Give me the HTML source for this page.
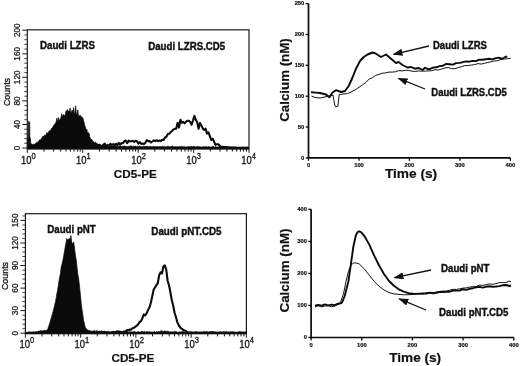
<!DOCTYPE html>
<html><head><meta charset="utf-8"><title>Figure</title>
<style>
html,body{margin:0;padding:0;background:#fff;}
body{width:520px;height:366px;overflow:hidden;font-family:"Liberation Sans",sans-serif;}
svg{display:block;}
text{font-family:"Liberation Sans",sans-serif;fill:#111;}
.b{font-weight:bold;stroke:#111;stroke-width:0.2px;}
</style></head><body>
<svg width="520" height="366" viewBox="0 0 520 366">
<rect width="520" height="366" fill="#fff"/>
<defs><marker id="ah" markerWidth="10" markerHeight="8" refX="9" refY="3.6" orient="auto" markerUnits="userSpaceOnUse"><path d="M0,0 L10,3.6 L0,7.2 Z" fill="#111"/></marker></defs>

<g>
<polygon points="27.3,148.0 27.3,138.5 28.5,138.0 28.6,121.5 29.7,122.0 29.8,137.0 30.5,138.5 30.7,144.5 30.9,143.7 31.6,144.0 32.3,144.6 33.0,144.6 33.7,144.1 34.4,144.3 35.1,144.1 35.8,143.2 36.5,142.6 37.2,142.2 37.9,142.2 38.6,141.1 39.3,140.1 40.0,139.7 40.7,139.6 41.4,139.2 42.1,137.4 42.8,136.2 43.5,136.3 44.2,136.5 44.9,134.8 45.6,135.7 46.3,134.1 47.0,132.4 47.7,133.4 48.4,132.6 49.1,131.0 49.8,131.0 50.5,129.9 51.2,129.3 51.9,127.9 52.6,127.5 53.3,125.9 54.0,125.2 54.7,124.1 55.4,123.4 56.1,122.0 56.8,118.3 57.5,122.4 58.2,117.5 58.9,119.8 59.6,120.4 60.3,118.4 61.0,117.5 61.7,113.7 62.4,117.2 63.1,115.0 63.8,114.5 64.5,116.1 65.2,115.2 65.9,111.4 66.6,110.5 67.3,109.6 68.0,111.1 68.7,111.2 69.4,111.9 70.1,107.9 70.8,113.0 71.5,111.7 72.2,110.1 72.9,112.8 73.6,107.6 74.3,113.4 75.0,112.7 75.7,105.8 76.4,114.4 77.1,114.6 77.8,109.8 78.5,116.2 79.2,116.2 79.9,115.1 80.6,115.8 81.3,116.5 82.0,118.1 82.7,117.4 83.4,120.0 84.1,122.5 84.8,125.7 85.5,127.2 86.2,130.1 86.9,129.4 87.6,133.2 88.3,132.7 89.0,133.0 89.7,136.7 90.4,138.4 91.1,139.4 91.8,139.3 92.5,140.6 93.2,141.3 93.9,142.2 94.6,142.4 95.3,142.2 96.0,143.0 96.7,143.4 97.4,143.9 98.1,143.9 98.8,144.6 99.5,144.2 100.2,144.6 100.9,144.6 101.6,145.3 102.3,145.7 103.0,145.1 103.7,145.6 104.4,144.6 105.1,145.4 105.8,145.6 106.5,145.7 107.2,145.6 107.9,145.5 108.6,146.2 109.3,146.4 110.0,146.1 110.7,146.0 111.4,146.1 112.1,145.7 112.8,146.1 113.5,145.9 114.2,146.1 114.9,145.8 115.6,145.7 116.3,146.2 117.0,146.0 117.7,146.4 118.4,146.4 119.1,146.0 119.8,145.8 120.5,145.8 121.2,146.4 121.9,146.5 122.6,146.1 123.3,146.2 124.0,146.2 124.7,146.1 125.4,146.2 126.1,146.5 126.8,146.5 127.5,146.6 128.2,146.2 128.9,146.5 129.6,146.3 130.3,145.7 131.0,146.3 131.7,146.1 132.4,146.7 133.1,146.2 133.8,146.0 134.5,146.5 135.2,146.0 135.9,146.4 136.6,146.5 137.3,146.2 138.0,146.4 138.7,146.5 139.4,145.7 140.1,146.6 140.8,146.6 141.5,146.6 142.2,146.6 142.9,146.6 143.6,146.2 144.3,146.5 145.0,146.2 145.7,146.6 146.4,146.4 147.1,146.1 147.8,146.5 148.5,146.7 149.2,146.4 149.9,146.4 150.6,146.4 151.3,146.7 152.0,146.5 152.7,146.7 153.4,146.3 154.1,146.7 154.8,146.6 155.5,146.7 156.2,146.7 156.9,146.4 157.6,146.5 158.3,146.8 159.0,146.6 159.7,146.6 160.4,146.5 161.1,146.8 161.8,146.7 162.5,146.2 163.2,146.7 163.9,146.5 164.6,146.4 165.3,146.9 166.0,146.5 166.7,146.8 167.4,146.4 168.1,146.1 168.8,146.7 169.5,146.8 170.2,146.8 170.9,146.2 171.6,146.5 172.3,146.1 173.0,146.6 173.7,146.7 174.4,146.6 175.1,146.9 175.8,146.6 176.5,146.8 177.2,146.8 177.9,146.7 178.6,146.7 179.3,146.6 180.0,146.8 180.7,146.5 181.4,146.2 182.1,146.8 182.8,146.7 183.5,146.7 184.2,146.8 184.9,146.8 185.6,147.0 186.3,147.0 187.0,146.8 187.7,146.7 188.4,146.4 189.1,146.9 189.8,146.5 190.5,146.6 191.2,146.7 191.9,146.2 192.6,147.0 193.3,146.1 194.0,146.9 194.7,146.4 195.4,147.1 196.1,146.6 196.8,146.9 197.5,146.3 198.2,146.8 198.9,146.8 199.6,146.6 200.3,146.8 201.0,146.9 201.7,147.1 202.4,146.9 203.1,146.6 203.8,146.7 204.5,146.9 205.2,147.1 205.9,146.2 206.6,147.1 207.3,147.0 208.0,146.9 208.7,146.2 209.4,147.0 210.1,147.1 210.8,147.2 211.5,146.9 212.2,146.3 212.9,146.7 213.6,146.5 214.3,147.0 215.0,147.0 215.7,146.5 216.4,147.1 217.1,146.8 217.8,147.1 218.5,147.0 219.2,147.1 219.9,147.0 220.6,147.1 221.3,147.2 222.0,146.9 222.7,147.1 223.4,147.2 224.1,146.9 224.8,147.2 225.5,147.3 226.2,147.2 226.9,147.1 227.6,146.6 228.3,147.2 229.0,146.6 229.7,147.1 230.4,147.3 231.1,147.3 231.8,147.3 232.5,147.4 233.2,147.0 233.9,147.2 234.6,147.3 235.3,147.3 236.0,147.4 236.7,147.4 237.4,147.3 238.1,147.3 238.8,147.4 239.5,147.5 240.2,147.4 240.9,147.3 241.6,147.5 242.3,147.0 243.0,147.5 243.7,147.3 244.4,147.4 245.1,147.3 245.8,147.3 246.5,147.3 247.2,147.3 247.9,147.0 248.6,147.5 249.0,148.0" fill="#0a0a0a" stroke="#0a0a0a" stroke-width="0.7" stroke-linejoin="round"/>
<polyline points="88.0,146.5 89.4,146.1 90.8,145.8 92.2,145.4 93.6,145.0 95.0,144.6 96.4,144.6 97.8,145.1 99.2,145.1 100.6,147.4 102.0,146.7 103.4,144.7 104.8,143.7 106.2,146.8 107.6,144.8 109.0,145.8 110.4,143.9 111.8,144.9 113.2,144.1 114.6,145.0 116.0,143.8 117.4,145.3 118.8,142.9 120.2,144.5 121.6,143.0 123.0,143.3 124.4,141.0 125.8,140.6 127.2,143.2 128.6,140.7 130.0,141.4 131.4,141.3 132.8,140.7 134.2,142.1 135.6,140.8 137.0,141.3 138.4,143.6 139.8,142.2 141.2,143.9 142.6,143.5 144.0,144.1 145.4,142.8 146.8,140.2 148.2,141.1 149.6,141.0 151.0,142.5 152.4,141.5 153.8,140.4 155.2,141.2 156.6,140.2 158.0,141.1 159.4,140.5 160.8,141.1 162.2,139.7 163.6,139.9 165.0,137.5 166.4,136.8 167.8,134.0 169.2,133.7 170.6,132.2 172.0,130.9 173.4,129.5 174.8,128.9 176.2,128.8 177.6,122.8 179.0,127.6 180.4,119.7 181.8,122.8 183.2,121.9 184.6,123.4 186.0,121.8 187.4,120.7 188.8,120.7 190.2,122.1 191.6,124.7 193.0,120.5 194.4,115.9 195.8,119.9 197.2,122.2 198.6,128.8 200.0,122.9 201.4,125.4 202.8,128.7 204.2,129.8 205.6,128.7 207.0,133.6 208.4,132.3 209.8,135.9 211.2,139.9 212.6,138.7 214.0,141.3 215.4,144.8 216.8,144.3 218.2,144.3 219.6,145.4 221.0,147.3 222.4,146.7 223.8,146.9 225.2,147.0 226.6,147.2 228.0,147.4 229.4,147.5 230.8,147.6 232.2,147.6 233.6,147.6 235.0,147.6 236.4,147.7 237.8,147.7 239.2,147.7 240.6,147.7 242.0,147.7 243.4,147.7 244.8,147.7 246.2,147.7 247.6,147.7 249.0,147.7" fill="none" stroke="#0d0d0d" stroke-width="2.1" stroke-linejoin="round"/>
<rect x="27.3" y="29.8" width="221.7" height="118.9" fill="none" stroke="#1a1a1a" stroke-width="1.2"/>
<line x1="27.3" y1="148.7" x2="249.0" y2="148.7" stroke="#111" stroke-width="1.5"/>
<line x1="22.3" y1="148.0" x2="27.3" y2="148.0" stroke="#1a1a1a" stroke-width="1"/>
<text transform="translate(19.7,148.0) rotate(-90)" text-anchor="middle" font-size="8.2" stroke="#111" stroke-width="0.25">0</text>
<line x1="24.3" y1="143.3" x2="27.3" y2="143.3" stroke="#1a1a1a" stroke-width="0.8"/>
<line x1="24.3" y1="138.6" x2="27.3" y2="138.6" stroke="#1a1a1a" stroke-width="0.8"/>
<line x1="24.3" y1="133.9" x2="27.3" y2="133.9" stroke="#1a1a1a" stroke-width="0.8"/>
<line x1="24.3" y1="129.2" x2="27.3" y2="129.2" stroke="#1a1a1a" stroke-width="0.8"/>
<line x1="22.3" y1="124.5" x2="27.3" y2="124.5" stroke="#1a1a1a" stroke-width="1"/>
<text transform="translate(19.7,124.5) rotate(-90)" text-anchor="middle" font-size="8.2" stroke="#111" stroke-width="0.25">40</text>
<line x1="24.3" y1="119.7" x2="27.3" y2="119.7" stroke="#1a1a1a" stroke-width="0.8"/>
<line x1="24.3" y1="115.0" x2="27.3" y2="115.0" stroke="#1a1a1a" stroke-width="0.8"/>
<line x1="24.3" y1="110.3" x2="27.3" y2="110.3" stroke="#1a1a1a" stroke-width="0.8"/>
<line x1="24.3" y1="105.6" x2="27.3" y2="105.6" stroke="#1a1a1a" stroke-width="0.8"/>
<line x1="22.3" y1="100.9" x2="27.3" y2="100.9" stroke="#1a1a1a" stroke-width="1"/>
<text transform="translate(19.7,100.9) rotate(-90)" text-anchor="middle" font-size="8.2" stroke="#111" stroke-width="0.25">80</text>
<line x1="24.3" y1="96.2" x2="27.3" y2="96.2" stroke="#1a1a1a" stroke-width="0.8"/>
<line x1="24.3" y1="91.5" x2="27.3" y2="91.5" stroke="#1a1a1a" stroke-width="0.8"/>
<line x1="24.3" y1="86.8" x2="27.3" y2="86.8" stroke="#1a1a1a" stroke-width="0.8"/>
<line x1="24.3" y1="82.1" x2="27.3" y2="82.1" stroke="#1a1a1a" stroke-width="0.8"/>
<line x1="22.3" y1="77.3" x2="27.3" y2="77.3" stroke="#1a1a1a" stroke-width="1"/>
<text transform="translate(19.7,77.3) rotate(-90)" text-anchor="middle" font-size="8.2" stroke="#111" stroke-width="0.25">120</text>
<line x1="24.3" y1="72.6" x2="27.3" y2="72.6" stroke="#1a1a1a" stroke-width="0.8"/>
<line x1="24.3" y1="67.9" x2="27.3" y2="67.9" stroke="#1a1a1a" stroke-width="0.8"/>
<line x1="24.3" y1="63.2" x2="27.3" y2="63.2" stroke="#1a1a1a" stroke-width="0.8"/>
<line x1="24.3" y1="58.5" x2="27.3" y2="58.5" stroke="#1a1a1a" stroke-width="0.8"/>
<line x1="22.3" y1="53.8" x2="27.3" y2="53.8" stroke="#1a1a1a" stroke-width="1"/>
<text transform="translate(19.7,53.8) rotate(-90)" text-anchor="middle" font-size="8.2" stroke="#111" stroke-width="0.25">160</text>
<line x1="24.3" y1="49.1" x2="27.3" y2="49.1" stroke="#1a1a1a" stroke-width="0.8"/>
<line x1="24.3" y1="44.4" x2="27.3" y2="44.4" stroke="#1a1a1a" stroke-width="0.8"/>
<line x1="24.3" y1="39.7" x2="27.3" y2="39.7" stroke="#1a1a1a" stroke-width="0.8"/>
<line x1="24.3" y1="35.0" x2="27.3" y2="35.0" stroke="#1a1a1a" stroke-width="0.8"/>
<line x1="22.3" y1="30.2" x2="27.3" y2="30.2" stroke="#1a1a1a" stroke-width="1"/>
<text transform="translate(19.7,30.2) rotate(-90)" text-anchor="middle" font-size="8.2" stroke="#111" stroke-width="0.25">200</text>
<line x1="27.3" y1="148.7" x2="27.3" y2="152.89999999999998" stroke="#1a1a1a" stroke-width="1"/>
<text transform="translate(28.3,163.8) scale(0.9,1)" text-anchor="middle" font-size="10.5" stroke="#111" stroke-width="0.3">10<tspan dy="-5.2" font-size="8.4">0</tspan></text>
<line x1="44.0" y1="148.7" x2="44.0" y2="151.6" stroke="#111" stroke-width="1"/>
<line x1="53.7" y1="148.7" x2="53.7" y2="151.6" stroke="#111" stroke-width="1"/>
<line x1="60.7" y1="148.7" x2="60.7" y2="151.6" stroke="#111" stroke-width="1"/>
<line x1="66.0" y1="148.7" x2="66.0" y2="151.6" stroke="#111" stroke-width="1"/>
<line x1="70.4" y1="148.7" x2="70.4" y2="151.6" stroke="#111" stroke-width="1"/>
<line x1="74.1" y1="148.7" x2="74.1" y2="151.6" stroke="#111" stroke-width="1"/>
<line x1="77.4" y1="148.7" x2="77.4" y2="151.6" stroke="#111" stroke-width="1"/>
<line x1="80.2" y1="148.7" x2="80.2" y2="151.6" stroke="#111" stroke-width="1"/>
<line x1="82.7" y1="148.7" x2="82.7" y2="152.89999999999998" stroke="#1a1a1a" stroke-width="1"/>
<text transform="translate(83.4,163.8) scale(0.9,1)" text-anchor="middle" font-size="10.5" stroke="#111" stroke-width="0.3">10<tspan dy="-5.2" font-size="8.4">1</tspan></text>
<line x1="99.4" y1="148.7" x2="99.4" y2="151.6" stroke="#111" stroke-width="1"/>
<line x1="109.2" y1="148.7" x2="109.2" y2="151.6" stroke="#111" stroke-width="1"/>
<line x1="116.1" y1="148.7" x2="116.1" y2="151.6" stroke="#111" stroke-width="1"/>
<line x1="121.5" y1="148.7" x2="121.5" y2="151.6" stroke="#111" stroke-width="1"/>
<line x1="125.9" y1="148.7" x2="125.9" y2="151.6" stroke="#111" stroke-width="1"/>
<line x1="129.6" y1="148.7" x2="129.6" y2="151.6" stroke="#111" stroke-width="1"/>
<line x1="132.8" y1="148.7" x2="132.8" y2="151.6" stroke="#111" stroke-width="1"/>
<line x1="135.6" y1="148.7" x2="135.6" y2="151.6" stroke="#111" stroke-width="1"/>
<line x1="138.2" y1="148.7" x2="138.2" y2="152.89999999999998" stroke="#1a1a1a" stroke-width="1"/>
<text transform="translate(138.5,163.8) scale(0.9,1)" text-anchor="middle" font-size="10.5" stroke="#111" stroke-width="0.3">10<tspan dy="-5.2" font-size="8.4">2</tspan></text>
<line x1="154.8" y1="148.7" x2="154.8" y2="151.6" stroke="#111" stroke-width="1"/>
<line x1="164.6" y1="148.7" x2="164.6" y2="151.6" stroke="#111" stroke-width="1"/>
<line x1="171.5" y1="148.7" x2="171.5" y2="151.6" stroke="#111" stroke-width="1"/>
<line x1="176.9" y1="148.7" x2="176.9" y2="151.6" stroke="#111" stroke-width="1"/>
<line x1="181.3" y1="148.7" x2="181.3" y2="151.6" stroke="#111" stroke-width="1"/>
<line x1="185.0" y1="148.7" x2="185.0" y2="151.6" stroke="#111" stroke-width="1"/>
<line x1="188.2" y1="148.7" x2="188.2" y2="151.6" stroke="#111" stroke-width="1"/>
<line x1="191.0" y1="148.7" x2="191.0" y2="151.6" stroke="#111" stroke-width="1"/>
<line x1="193.6" y1="148.7" x2="193.6" y2="152.89999999999998" stroke="#1a1a1a" stroke-width="1"/>
<text transform="translate(193.5,163.8) scale(0.9,1)" text-anchor="middle" font-size="10.5" stroke="#111" stroke-width="0.3">10<tspan dy="-5.2" font-size="8.4">3</tspan></text>
<line x1="210.3" y1="148.7" x2="210.3" y2="151.6" stroke="#111" stroke-width="1"/>
<line x1="220.0" y1="148.7" x2="220.0" y2="151.6" stroke="#111" stroke-width="1"/>
<line x1="226.9" y1="148.7" x2="226.9" y2="151.6" stroke="#111" stroke-width="1"/>
<line x1="232.3" y1="148.7" x2="232.3" y2="151.6" stroke="#111" stroke-width="1"/>
<line x1="236.7" y1="148.7" x2="236.7" y2="151.6" stroke="#111" stroke-width="1"/>
<line x1="240.4" y1="148.7" x2="240.4" y2="151.6" stroke="#111" stroke-width="1"/>
<line x1="243.6" y1="148.7" x2="243.6" y2="151.6" stroke="#111" stroke-width="1"/>
<line x1="246.5" y1="148.7" x2="246.5" y2="151.6" stroke="#111" stroke-width="1"/>
<line x1="249.0" y1="148.7" x2="249.0" y2="152.89999999999998" stroke="#1a1a1a" stroke-width="1"/>
<text transform="translate(248.6,163.8) scale(0.9,1)" text-anchor="middle" font-size="10.5" stroke="#111" stroke-width="0.3">10<tspan dy="-5.2" font-size="8.4">4</tspan></text>
<text transform="translate(10.3,92) rotate(-90)" text-anchor="middle" font-size="8.9" stroke="#111" stroke-width="0.3">Counts</text>
<text class="b" x="135.3" y="177.8" text-anchor="middle" font-size="11.7">CD5-PE</text>
<text class="b" transform="translate(40,49) scale(0.91,1)" font-size="10.67" style="stroke-width:0.4px">Daudi LZRS</text>
<text class="b" transform="translate(148.2,50.2) scale(0.91,1)" font-size="10.67" style="stroke-width:0.4px">Daudi LZRS.CD5</text>
</g>
<g>
<polygon points="25.4,333.2 25.4,332.0 26.1,332.2 26.8,332.3 27.5,332.4 28.2,332.0 28.9,331.7 29.6,331.9 30.3,331.9 31.0,332.2 31.7,332.0 32.4,332.1 33.1,331.5 33.8,331.8 34.5,332.0 35.2,331.9 35.9,331.6 36.6,331.6 37.3,331.7 38.0,331.3 38.7,331.0 39.4,331.0 40.1,331.1 40.8,330.6 41.5,330.8 42.2,330.9 42.9,330.8 43.6,330.5 44.3,330.2 45.0,330.6 45.7,330.5 46.4,330.3 47.1,329.9 47.8,328.9 48.5,326.9 49.2,324.7 49.9,322.7 50.6,320.1 51.3,317.8 52.0,315.0 52.7,313.2 53.4,310.2 54.1,307.6 54.8,304.2 55.5,301.9 56.2,297.8 56.9,293.4 57.6,290.2 58.3,285.8 59.0,280.8 59.7,276.9 60.4,273.7 61.1,267.6 61.8,264.8 62.5,262.1 63.2,258.7 63.9,254.8 64.6,250.6 65.3,246.4 66.0,243.2 66.7,238.5 67.4,240.1 68.1,239.5 68.8,238.8 69.5,238.4 70.2,240.1 70.9,235.5 71.6,241.6 72.3,243.3 73.0,244.1 73.7,241.8 74.4,246.9 75.1,252.8 75.8,257.5 76.5,262.0 77.2,269.3 77.9,274.6 78.6,278.2 79.3,284.3 80.0,290.9 80.7,297.8 81.4,304.9 82.1,310.1 82.8,314.5 83.5,320.0 84.2,322.6 84.9,326.0 85.6,328.3 86.3,328.8 87.0,329.2 87.7,330.3 88.4,330.3 89.1,330.4 89.8,330.5 90.5,330.9 91.2,331.2 91.9,331.1 92.6,331.1 93.3,331.1 94.0,330.8 94.7,330.5 95.4,331.2 96.1,331.4 96.8,330.3 97.5,330.9 98.2,331.6 98.9,331.4 99.6,331.2 100.3,331.6 101.0,330.8 101.7,330.8 102.4,331.5 103.1,331.6 103.8,331.7 104.5,331.2 105.2,331.5 105.9,331.4 106.6,331.8 107.3,331.5 108.0,331.4 108.7,331.9 109.4,331.9 110.1,332.1 110.8,332.0 111.5,331.7 112.2,331.9 112.9,331.3 113.6,331.3 114.3,331.9 115.0,332.0 115.7,331.9 116.4,331.9 117.1,330.8 117.8,332.0 118.5,331.9 119.2,331.9 119.9,331.7 120.6,330.9 121.3,331.5 122.0,331.9 122.7,331.6 123.4,331.3 124.1,332.1 124.8,331.9 125.5,331.9 126.2,332.1 126.9,330.7 127.6,331.9 128.3,332.2 129.0,331.9 129.7,331.6 130.4,331.9 131.1,331.5 131.8,332.1 132.5,332.1 133.2,331.8 133.9,331.6 134.6,331.3 135.3,331.9 136.0,332.0 136.7,332.2 137.4,331.8 138.1,332.0 138.8,331.5 139.5,332.1 140.2,332.1 140.9,332.1 141.6,331.3 142.3,331.6 143.0,331.7 143.7,331.7 144.4,331.5 145.1,331.8 145.8,332.2 146.5,331.9 147.2,331.2 147.9,332.0 148.6,332.1 149.3,331.4 150.0,332.1 150.7,332.0 151.4,332.1 152.1,332.1 152.8,332.1 153.5,332.2 154.2,331.3 154.9,331.9 155.6,332.2 156.3,331.6 157.0,332.2 157.7,331.7 158.4,331.5 159.1,332.0 159.8,331.6 160.5,331.6 161.2,330.3 161.9,331.5 162.6,331.3 163.3,331.7 164.0,330.9 164.7,331.1 165.4,330.9 166.1,331.6 166.8,331.3 167.5,331.2 168.2,331.5 168.9,331.6 169.6,331.9 170.3,332.0 171.0,331.8 171.7,331.8 172.4,331.7 173.1,332.3 173.8,331.7 174.5,331.2 175.2,331.5 175.9,331.8 176.6,331.7 177.3,332.2 178.0,332.1 178.7,332.2 179.4,331.7 180.1,332.2 180.8,332.0 181.5,331.8 182.2,332.2 182.9,331.0 183.6,331.9 184.3,331.9 185.0,332.0 185.7,332.0 186.4,332.3 187.1,332.3 187.8,331.8 188.5,332.2 189.2,331.9 189.9,332.4 190.6,331.8 191.3,332.2 192.0,332.1 192.7,332.2 193.4,332.4 194.1,332.1 194.8,332.3 195.5,331.9 196.2,331.9 196.9,331.9 197.6,331.8 198.3,332.4 199.0,332.2 199.7,332.0 200.4,332.1 201.1,332.2 201.8,332.0 202.5,332.3 203.2,332.1 203.9,332.3 204.6,332.0 205.3,332.1 206.0,332.4 206.7,331.2 207.4,332.1 208.1,332.2 208.8,331.9 209.5,331.8 210.2,332.0 210.9,332.2 211.6,332.2 212.3,332.1 213.0,331.1 213.7,332.1 214.4,332.2 215.1,332.5 215.8,331.9 216.5,332.5 217.2,332.5 217.9,332.5 218.6,331.9 219.3,331.9 220.0,332.3 220.7,331.4 221.4,332.6 222.1,332.3 222.8,332.4 223.5,331.6 224.2,332.1 224.9,331.6 225.6,332.5 226.3,331.7 227.0,332.3 227.7,332.4 228.4,332.5 229.1,332.4 229.8,331.8 230.5,331.9 231.2,332.3 231.9,332.2 232.6,332.6 233.3,332.5 234.0,332.3 234.7,332.4 235.4,332.5 236.1,332.5 236.8,332.4 237.5,332.4 238.2,332.2 238.9,332.6 239.6,331.4 240.3,331.6 241.0,332.3 241.7,332.5 242.4,331.7 243.1,332.4 243.8,332.3 244.5,332.3 245.2,331.6 245.9,332.6 246.4,333.2" fill="#0a0a0a" stroke="#0a0a0a" stroke-width="0.7" stroke-linejoin="round"/>
<polyline points="92.0,332.6 93.4,332.3 94.8,332.5 96.2,332.8 97.6,332.9 99.0,332.1 100.4,332.9 101.8,332.0 103.2,332.2 104.6,332.3 106.0,332.9 107.4,332.6 108.8,332.6 110.2,332.9 111.6,332.4 113.0,332.1 114.4,332.6 115.8,332.0 117.2,331.6 118.6,331.4 120.0,331.9 121.4,332.4 122.8,332.0 124.2,331.5 125.6,331.4 127.0,330.1 128.4,330.2 129.8,329.5 131.2,329.6 132.6,328.1 134.0,327.8 135.4,326.7 136.8,325.7 138.2,324.3 139.6,322.0 141.0,321.2 142.4,318.2 143.8,314.4 145.2,315.5 146.6,313.4 148.0,310.1 149.4,307.6 150.8,303.0 152.2,296.5 153.6,289.8 155.0,287.5 156.4,285.1 157.8,283.1 159.2,275.0 160.6,272.3 162.0,273.6 163.4,266.3 164.8,265.3 166.2,269.3 167.6,280.5 169.0,285.3 170.4,292.3 171.8,300.3 173.2,305.7 174.6,312.7 176.0,317.3 177.4,322.4 178.8,325.3 180.2,327.4 181.6,328.7 183.0,329.7 184.4,330.4 185.8,331.0 187.2,331.8 188.6,332.6 190.0,332.5 191.4,332.5 192.8,332.8 194.2,332.9 195.6,332.4 197.0,332.9 198.4,332.9 199.8,332.9 201.2,332.9 202.6,332.9 204.0,332.3 205.4,332.6 206.8,332.8 208.2,332.9 209.6,332.9 211.0,332.1 212.4,332.7 213.8,332.9 215.2,332.6 216.6,332.8 218.0,332.9 219.4,332.9 220.8,332.9 222.2,332.9 223.6,332.9 225.0,332.8 226.4,332.5 227.8,332.6 229.2,332.7 230.6,332.9 232.0,332.4 233.4,332.6 234.8,332.8 236.2,332.9 237.6,332.9 239.0,332.8 240.4,332.9 241.8,332.9 243.2,332.9 244.6,332.9 246.0,332.9" fill="none" stroke="#0d0d0d" stroke-width="2.1" stroke-linejoin="round"/>
<rect x="25.4" y="213.7" width="221.0" height="119.8" fill="none" stroke="#1a1a1a" stroke-width="1.2"/>
<line x1="25.4" y1="333.5" x2="246.4" y2="333.5" stroke="#111" stroke-width="1.5"/>
<line x1="20.4" y1="333.2" x2="25.4" y2="333.2" stroke="#1a1a1a" stroke-width="1"/>
<text transform="translate(17.8,333.2) rotate(-90)" text-anchor="middle" font-size="8.2" stroke="#111" stroke-width="0.25">0</text>
<line x1="22.4" y1="328.7" x2="25.4" y2="328.7" stroke="#1a1a1a" stroke-width="0.8"/>
<line x1="22.4" y1="324.2" x2="25.4" y2="324.2" stroke="#1a1a1a" stroke-width="0.8"/>
<line x1="22.4" y1="319.7" x2="25.4" y2="319.7" stroke="#1a1a1a" stroke-width="0.8"/>
<line x1="22.4" y1="315.2" x2="25.4" y2="315.2" stroke="#1a1a1a" stroke-width="0.8"/>
<line x1="20.4" y1="310.6" x2="25.4" y2="310.6" stroke="#1a1a1a" stroke-width="1"/>
<text transform="translate(17.8,310.6) rotate(-90)" text-anchor="middle" font-size="8.2" stroke="#111" stroke-width="0.25">30</text>
<line x1="22.4" y1="306.1" x2="25.4" y2="306.1" stroke="#1a1a1a" stroke-width="0.8"/>
<line x1="22.4" y1="301.6" x2="25.4" y2="301.6" stroke="#1a1a1a" stroke-width="0.8"/>
<line x1="22.4" y1="297.1" x2="25.4" y2="297.1" stroke="#1a1a1a" stroke-width="0.8"/>
<line x1="22.4" y1="292.6" x2="25.4" y2="292.6" stroke="#1a1a1a" stroke-width="0.8"/>
<line x1="20.4" y1="288.1" x2="25.4" y2="288.1" stroke="#1a1a1a" stroke-width="1"/>
<text transform="translate(17.8,288.1) rotate(-90)" text-anchor="middle" font-size="8.2" stroke="#111" stroke-width="0.25">60</text>
<line x1="22.4" y1="283.6" x2="25.4" y2="283.6" stroke="#1a1a1a" stroke-width="0.8"/>
<line x1="22.4" y1="279.1" x2="25.4" y2="279.1" stroke="#1a1a1a" stroke-width="0.8"/>
<line x1="22.4" y1="274.6" x2="25.4" y2="274.6" stroke="#1a1a1a" stroke-width="0.8"/>
<line x1="22.4" y1="270.1" x2="25.4" y2="270.1" stroke="#1a1a1a" stroke-width="0.8"/>
<line x1="20.4" y1="265.5" x2="25.4" y2="265.5" stroke="#1a1a1a" stroke-width="1"/>
<text transform="translate(17.8,265.5) rotate(-90)" text-anchor="middle" font-size="8.2" stroke="#111" stroke-width="0.25">90</text>
<line x1="22.4" y1="261.0" x2="25.4" y2="261.0" stroke="#1a1a1a" stroke-width="0.8"/>
<line x1="22.4" y1="256.5" x2="25.4" y2="256.5" stroke="#1a1a1a" stroke-width="0.8"/>
<line x1="22.4" y1="252.0" x2="25.4" y2="252.0" stroke="#1a1a1a" stroke-width="0.8"/>
<line x1="22.4" y1="247.5" x2="25.4" y2="247.5" stroke="#1a1a1a" stroke-width="0.8"/>
<line x1="20.4" y1="243.0" x2="25.4" y2="243.0" stroke="#1a1a1a" stroke-width="1"/>
<text transform="translate(17.8,243.0) rotate(-90)" text-anchor="middle" font-size="8.2" stroke="#111" stroke-width="0.25">120</text>
<line x1="22.4" y1="238.5" x2="25.4" y2="238.5" stroke="#1a1a1a" stroke-width="0.8"/>
<line x1="22.4" y1="234.0" x2="25.4" y2="234.0" stroke="#1a1a1a" stroke-width="0.8"/>
<line x1="22.4" y1="229.5" x2="25.4" y2="229.5" stroke="#1a1a1a" stroke-width="0.8"/>
<line x1="22.4" y1="225.0" x2="25.4" y2="225.0" stroke="#1a1a1a" stroke-width="0.8"/>
<line x1="20.4" y1="220.4" x2="25.4" y2="220.4" stroke="#1a1a1a" stroke-width="1"/>
<text transform="translate(17.8,220.4) rotate(-90)" text-anchor="middle" font-size="8.2" stroke="#111" stroke-width="0.25">150</text>
<line x1="22.4" y1="215.9" x2="25.4" y2="215.9" stroke="#1a1a1a" stroke-width="0.8"/>
<line x1="25.4" y1="333.5" x2="25.4" y2="337.7" stroke="#1a1a1a" stroke-width="1"/>
<text transform="translate(26.9,347.9) scale(0.9,1)" text-anchor="middle" font-size="10.5" stroke="#111" stroke-width="0.3">10<tspan dy="-5.2" font-size="8.4">0</tspan></text>
<line x1="42.0" y1="333.5" x2="42.0" y2="336.4" stroke="#111" stroke-width="1"/>
<line x1="51.8" y1="333.5" x2="51.8" y2="336.4" stroke="#111" stroke-width="1"/>
<line x1="58.7" y1="333.5" x2="58.7" y2="336.4" stroke="#111" stroke-width="1"/>
<line x1="64.0" y1="333.5" x2="64.0" y2="336.4" stroke="#111" stroke-width="1"/>
<line x1="68.4" y1="333.5" x2="68.4" y2="336.4" stroke="#111" stroke-width="1"/>
<line x1="72.1" y1="333.5" x2="72.1" y2="336.4" stroke="#111" stroke-width="1"/>
<line x1="75.3" y1="333.5" x2="75.3" y2="336.4" stroke="#111" stroke-width="1"/>
<line x1="78.1" y1="333.5" x2="78.1" y2="336.4" stroke="#111" stroke-width="1"/>
<line x1="80.7" y1="333.5" x2="80.7" y2="337.7" stroke="#1a1a1a" stroke-width="1"/>
<text transform="translate(81.8,347.9) scale(0.9,1)" text-anchor="middle" font-size="10.5" stroke="#111" stroke-width="0.3">10<tspan dy="-5.2" font-size="8.4">1</tspan></text>
<line x1="97.3" y1="333.5" x2="97.3" y2="336.4" stroke="#111" stroke-width="1"/>
<line x1="107.0" y1="333.5" x2="107.0" y2="336.4" stroke="#111" stroke-width="1"/>
<line x1="113.9" y1="333.5" x2="113.9" y2="336.4" stroke="#111" stroke-width="1"/>
<line x1="119.3" y1="333.5" x2="119.3" y2="336.4" stroke="#111" stroke-width="1"/>
<line x1="123.6" y1="333.5" x2="123.6" y2="336.4" stroke="#111" stroke-width="1"/>
<line x1="127.3" y1="333.5" x2="127.3" y2="336.4" stroke="#111" stroke-width="1"/>
<line x1="130.5" y1="333.5" x2="130.5" y2="336.4" stroke="#111" stroke-width="1"/>
<line x1="133.4" y1="333.5" x2="133.4" y2="336.4" stroke="#111" stroke-width="1"/>
<line x1="135.9" y1="333.5" x2="135.9" y2="337.7" stroke="#1a1a1a" stroke-width="1"/>
<text transform="translate(136.7,347.9) scale(0.9,1)" text-anchor="middle" font-size="10.5" stroke="#111" stroke-width="0.3">10<tspan dy="-5.2" font-size="8.4">2</tspan></text>
<line x1="152.5" y1="333.5" x2="152.5" y2="336.4" stroke="#111" stroke-width="1"/>
<line x1="162.3" y1="333.5" x2="162.3" y2="336.4" stroke="#111" stroke-width="1"/>
<line x1="169.2" y1="333.5" x2="169.2" y2="336.4" stroke="#111" stroke-width="1"/>
<line x1="174.5" y1="333.5" x2="174.5" y2="336.4" stroke="#111" stroke-width="1"/>
<line x1="178.9" y1="333.5" x2="178.9" y2="336.4" stroke="#111" stroke-width="1"/>
<line x1="182.6" y1="333.5" x2="182.6" y2="336.4" stroke="#111" stroke-width="1"/>
<line x1="185.8" y1="333.5" x2="185.8" y2="336.4" stroke="#111" stroke-width="1"/>
<line x1="188.6" y1="333.5" x2="188.6" y2="336.4" stroke="#111" stroke-width="1"/>
<line x1="191.2" y1="333.5" x2="191.2" y2="337.7" stroke="#1a1a1a" stroke-width="1"/>
<text transform="translate(191.6,347.9) scale(0.9,1)" text-anchor="middle" font-size="10.5" stroke="#111" stroke-width="0.3">10<tspan dy="-5.2" font-size="8.4">3</tspan></text>
<line x1="207.8" y1="333.5" x2="207.8" y2="336.4" stroke="#111" stroke-width="1"/>
<line x1="217.5" y1="333.5" x2="217.5" y2="336.4" stroke="#111" stroke-width="1"/>
<line x1="224.4" y1="333.5" x2="224.4" y2="336.4" stroke="#111" stroke-width="1"/>
<line x1="229.8" y1="333.5" x2="229.8" y2="336.4" stroke="#111" stroke-width="1"/>
<line x1="234.1" y1="333.5" x2="234.1" y2="336.4" stroke="#111" stroke-width="1"/>
<line x1="237.8" y1="333.5" x2="237.8" y2="336.4" stroke="#111" stroke-width="1"/>
<line x1="241.0" y1="333.5" x2="241.0" y2="336.4" stroke="#111" stroke-width="1"/>
<line x1="243.9" y1="333.5" x2="243.9" y2="336.4" stroke="#111" stroke-width="1"/>
<line x1="246.4" y1="333.5" x2="246.4" y2="337.7" stroke="#1a1a1a" stroke-width="1"/>
<text transform="translate(246.5,347.9) scale(0.9,1)" text-anchor="middle" font-size="10.5" stroke="#111" stroke-width="0.3">10<tspan dy="-5.2" font-size="8.4">4</tspan></text>
<text transform="translate(7.6,276) rotate(-90)" text-anchor="middle" font-size="8.9" stroke="#111" stroke-width="0.3">Counts</text>
<text class="b" x="132.9" y="361.9" text-anchor="middle" font-size="11.7">CD5-PE</text>
<text class="b" transform="translate(47.3,233.2) scale(0.91,1)" font-size="10.67" style="stroke-width:0.4px">Daudi pNT</text>
<text class="b" transform="translate(151.3,234.7) scale(0.91,1)" font-size="10.78" style="stroke-width:0.4px">Daudi pNT.CD5</text>
</g>
<g>
<polyline points="311.5,96.0 315.0,97.5 320.0,98.0 328.0,96.3 333.0,95.0 334.5,104.0 335.5,106.8 337.8,106.5 339.2,94.5 343.0,94.0 347.5,93.6 351.0,92.0 355.0,90.0 362.5,84.9 365.8,82.5 369.1,79.1 372.4,77.7 375.7,75.4 379.0,74.3 382.3,73.2 385.6,72.9 388.9,72.1 392.2,72.1 395.5,71.8 398.8,70.6 402.1,70.9 405.4,70.3 408.7,70.4 412.0,71.2 415.3,71.4 418.6,71.0 421.9,71.1 425.2,71.1 428.5,70.9 431.8,70.7 435.1,69.7 438.4,70.0 441.7,69.0 445.0,68.0 448.3,67.5 451.6,68.7 454.9,68.7 458.2,67.6 461.5,66.7 464.8,65.6 468.1,65.6 471.4,65.0 474.7,64.6 478.0,63.6 481.3,64.1 484.6,63.2 487.9,62.5 491.2,61.6 494.5,60.9 497.8,60.7 501.1,59.3 504.4,59.1 507.7,58.6 510.6,58.4" fill="none" stroke="#111" stroke-width="1" stroke-linejoin="round"/>
<polyline points="311.0,92.3 316.0,92.6 320.0,93.0 326.0,94.5 329.5,97.2 332.5,92.5 336.0,90.2 341.0,92.0 345.0,91.0 348.7,86.0 352.5,77.5 356.0,68.7 360.0,61.0 363.7,57.0 367.5,54.5 372.5,52.5 376.0,53.7 381.0,57.0 386.0,54.5 389.5,57.5 392.5,60.0 396.0,63.0 398.7,62.0 402.5,65.0 407.5,67.5 411.0,67.0 415.0,68.7 418.7,68.0 422.5,70.0 425.0,67.8 429.0,69.3 433.0,67.6 436.3,67.3 439.6,66.1 442.9,65.8 446.2,63.9 449.5,64.2 452.8,64.6 456.1,63.1 459.4,62.9 462.7,62.2 466.0,61.4 469.3,61.7 472.6,60.9 475.9,61.1 479.2,59.6 482.5,59.8 485.8,59.3 489.1,58.8 492.4,59.4 495.7,58.1 499.0,57.6 502.3,58.8 505.6,56.8 507.3,56.6" fill="none" stroke="#0a0a0a" stroke-width="1.9" stroke-linejoin="round"/>
<path d="M308.5,3.6 V157.9 H510.4" fill="none" stroke="#0a0a0a" stroke-width="1.7"/>
<line x1="305.7" y1="157.9" x2="308.5" y2="157.9" stroke="#0a0a0a" stroke-width="1.3"/>
<text class="b" x="304.3" y="159.7" text-anchor="end" font-size="5.8">0</text>
<line x1="305.7" y1="127.0" x2="308.5" y2="127.0" stroke="#0a0a0a" stroke-width="1.3"/>
<text class="b" x="304.3" y="128.8" text-anchor="end" font-size="5.8">50</text>
<line x1="305.7" y1="96.2" x2="308.5" y2="96.2" stroke="#0a0a0a" stroke-width="1.3"/>
<text class="b" x="304.3" y="98.0" text-anchor="end" font-size="5.8">100</text>
<line x1="305.7" y1="65.3" x2="308.5" y2="65.3" stroke="#0a0a0a" stroke-width="1.3"/>
<text class="b" x="304.3" y="67.1" text-anchor="end" font-size="5.8">150</text>
<line x1="305.7" y1="34.5" x2="308.5" y2="34.5" stroke="#0a0a0a" stroke-width="1.3"/>
<text class="b" x="304.3" y="36.3" text-anchor="end" font-size="5.8">200</text>
<line x1="305.7" y1="3.6" x2="308.5" y2="3.6" stroke="#0a0a0a" stroke-width="1.3"/>
<text class="b" x="304.3" y="5.4" text-anchor="end" font-size="5.8">250</text>
<line x1="308.5" y1="157.9" x2="308.5" y2="160.8" stroke="#0a0a0a" stroke-width="1.3"/>
<text class="b" x="308.5" y="167.1" text-anchor="middle" font-size="5.8">0</text>
<line x1="359.0" y1="157.9" x2="359.0" y2="160.8" stroke="#0a0a0a" stroke-width="1.3"/>
<text class="b" x="359.0" y="167.1" text-anchor="middle" font-size="5.8">100</text>
<line x1="409.4" y1="157.9" x2="409.4" y2="160.8" stroke="#0a0a0a" stroke-width="1.3"/>
<text class="b" x="409.4" y="167.1" text-anchor="middle" font-size="5.8">200</text>
<line x1="459.9" y1="157.9" x2="459.9" y2="160.8" stroke="#0a0a0a" stroke-width="1.3"/>
<text class="b" x="459.9" y="167.1" text-anchor="middle" font-size="5.8">300</text>
<line x1="510.4" y1="157.9" x2="510.4" y2="160.8" stroke="#0a0a0a" stroke-width="1.3"/>
<text class="b" x="510.4" y="167.1" text-anchor="middle" font-size="5.8">400</text>
<text class="b" transform="translate(288.7,80) rotate(-90)" text-anchor="middle" font-size="13.3">Calcium (nM)</text>
<text class="b" x="411" y="178.4" text-anchor="middle" font-size="13.7">Time (s)</text>
<line x1="429" y1="46" x2="393.5" y2="54.3" stroke="#111" stroke-width="1.3" marker-end="url(#ah)"/>
<text class="b" transform="translate(433,49) scale(0.91,1)" font-size="10.45" style="stroke-width:0.4px">Daudi LZRS</text>
<line x1="425" y1="89" x2="398.5" y2="78.4" stroke="#111" stroke-width="1.3" marker-end="url(#ah)"/>
<text class="b" transform="translate(431.3,96.2) scale(0.91,1)" font-size="10.45" style="stroke-width:0.4px">Daudi LZRS.CD5</text>
</g>
<g>
<polyline points="315.0,307.0 318.3,305.8 321.6,306.9 324.9,306.0 328.2,305.9 331.5,306.7 334.8,306.1 338.1,304.3 339.0,304.3 341.0,301.0 343.5,293.7 346.0,281.4 348.4,271.6 350.9,265.5 352.8,263.4 354.6,262.8 357.0,263.2 359.5,264.2 364.4,269.0 369.3,275.3 374.2,281.4 379.1,286.3 384.0,290.0 389.0,292.5 393.9,293.9 403.7,294.8 411.0,294.6 420.0,293.7 423.3,294.0 426.6,292.6 429.9,293.0 433.2,292.9 436.5,291.8 439.8,291.7 443.1,291.0 446.4,291.1 449.7,290.2 453.0,289.3 456.3,289.4 459.6,288.9 462.9,288.1 466.2,287.9 469.5,287.1 472.8,286.7 476.1,286.7 479.4,285.1 482.7,285.4 486.0,284.7 489.3,283.9 492.6,284.3 495.9,283.6 499.2,282.7 502.5,282.6 505.8,282.5 509.1,281.1 511.0,281.5" fill="none" stroke="#111" stroke-width="1" stroke-linejoin="round"/>
<polyline points="315.0,305.6 318.3,304.8 321.6,305.7 324.9,304.4 328.2,305.4 331.5,304.6 334.8,305.2 338.1,303.7 341.4,303.1 342.3,302.0 344.7,296.0 348.4,281.4 350.9,264.2 353.3,247.0 355.8,235.5 357.5,232.2 359.0,231.3 361.0,232.2 364.4,236.0 369.3,244.6 374.2,255.6 379.1,265.5 384.0,274.0 389.0,281.0 393.9,285.8 398.8,289.3 403.7,291.7 408.6,293.2 414.8,293.9 423.4,293.5 426.7,293.5 430.0,292.7 433.3,293.3 436.6,292.9 439.9,291.8 443.2,292.1 446.5,291.7 449.8,291.7 453.1,290.6 456.4,290.6 459.7,290.6 463.0,289.2 466.3,289.9 469.6,288.8 472.9,288.2 476.2,287.3 479.5,286.8 482.8,287.6 486.1,286.7 489.4,286.3 492.7,286.8 496.0,286.5 499.3,286.1 502.6,285.3 505.9,285.0 509.2,286.0 511.0,285.5" fill="none" stroke="#0a0a0a" stroke-width="1.9" stroke-linejoin="round"/>
<path d="M311.1,209.3 V337.5 H513.8" fill="none" stroke="#0a0a0a" stroke-width="1.7"/>
<line x1="308.3" y1="337.5" x2="311.1" y2="337.5" stroke="#0a0a0a" stroke-width="1.3"/>
<text class="b" x="306.90000000000003" y="339.3" text-anchor="end" font-size="5.8">0</text>
<line x1="308.3" y1="305.4" x2="311.1" y2="305.4" stroke="#0a0a0a" stroke-width="1.3"/>
<text class="b" x="306.90000000000003" y="307.2" text-anchor="end" font-size="5.8">100</text>
<line x1="308.3" y1="273.4" x2="311.1" y2="273.4" stroke="#0a0a0a" stroke-width="1.3"/>
<text class="b" x="306.90000000000003" y="275.2" text-anchor="end" font-size="5.8">200</text>
<line x1="308.3" y1="241.4" x2="311.1" y2="241.4" stroke="#0a0a0a" stroke-width="1.3"/>
<text class="b" x="306.90000000000003" y="243.2" text-anchor="end" font-size="5.8">300</text>
<line x1="308.3" y1="209.3" x2="311.1" y2="209.3" stroke="#0a0a0a" stroke-width="1.3"/>
<text class="b" x="306.90000000000003" y="211.1" text-anchor="end" font-size="5.8">400</text>
<line x1="311.1" y1="337.5" x2="311.1" y2="340.4" stroke="#0a0a0a" stroke-width="1.3"/>
<text class="b" x="311.1" y="346.7" text-anchor="middle" font-size="5.8">0</text>
<line x1="361.8" y1="337.5" x2="361.8" y2="340.4" stroke="#0a0a0a" stroke-width="1.3"/>
<text class="b" x="361.8" y="346.7" text-anchor="middle" font-size="5.8">100</text>
<line x1="412.4" y1="337.5" x2="412.4" y2="340.4" stroke="#0a0a0a" stroke-width="1.3"/>
<text class="b" x="412.4" y="346.7" text-anchor="middle" font-size="5.8">200</text>
<line x1="463.1" y1="337.5" x2="463.1" y2="340.4" stroke="#0a0a0a" stroke-width="1.3"/>
<text class="b" x="463.1" y="346.7" text-anchor="middle" font-size="5.8">300</text>
<line x1="513.8" y1="337.5" x2="513.8" y2="340.4" stroke="#0a0a0a" stroke-width="1.3"/>
<text class="b" x="513.8" y="346.7" text-anchor="middle" font-size="5.8">400</text>
<text class="b" transform="translate(289.2,270.5) rotate(-90)" text-anchor="middle" font-size="13.4">Calcium (nM)</text>
<text class="b" x="415.2" y="362" text-anchor="middle" font-size="13.6">Time (s)</text>
<line x1="431" y1="270" x2="394.4" y2="277.7" stroke="#111" stroke-width="1.3" marker-end="url(#ah)"/>
<text class="b" transform="translate(441,271.5) scale(0.91,1)" font-size="10.67" style="stroke-width:0.4px">Daudi pNT</text>
<line x1="426" y1="310" x2="399.3" y2="298.8" stroke="#111" stroke-width="1.3" marker-end="url(#ah)"/>
<text class="b" transform="translate(439,316) scale(0.91,1)" font-size="10.67" style="stroke-width:0.4px">Daudi pNT.CD5</text>
</g>
</svg></body></html>
